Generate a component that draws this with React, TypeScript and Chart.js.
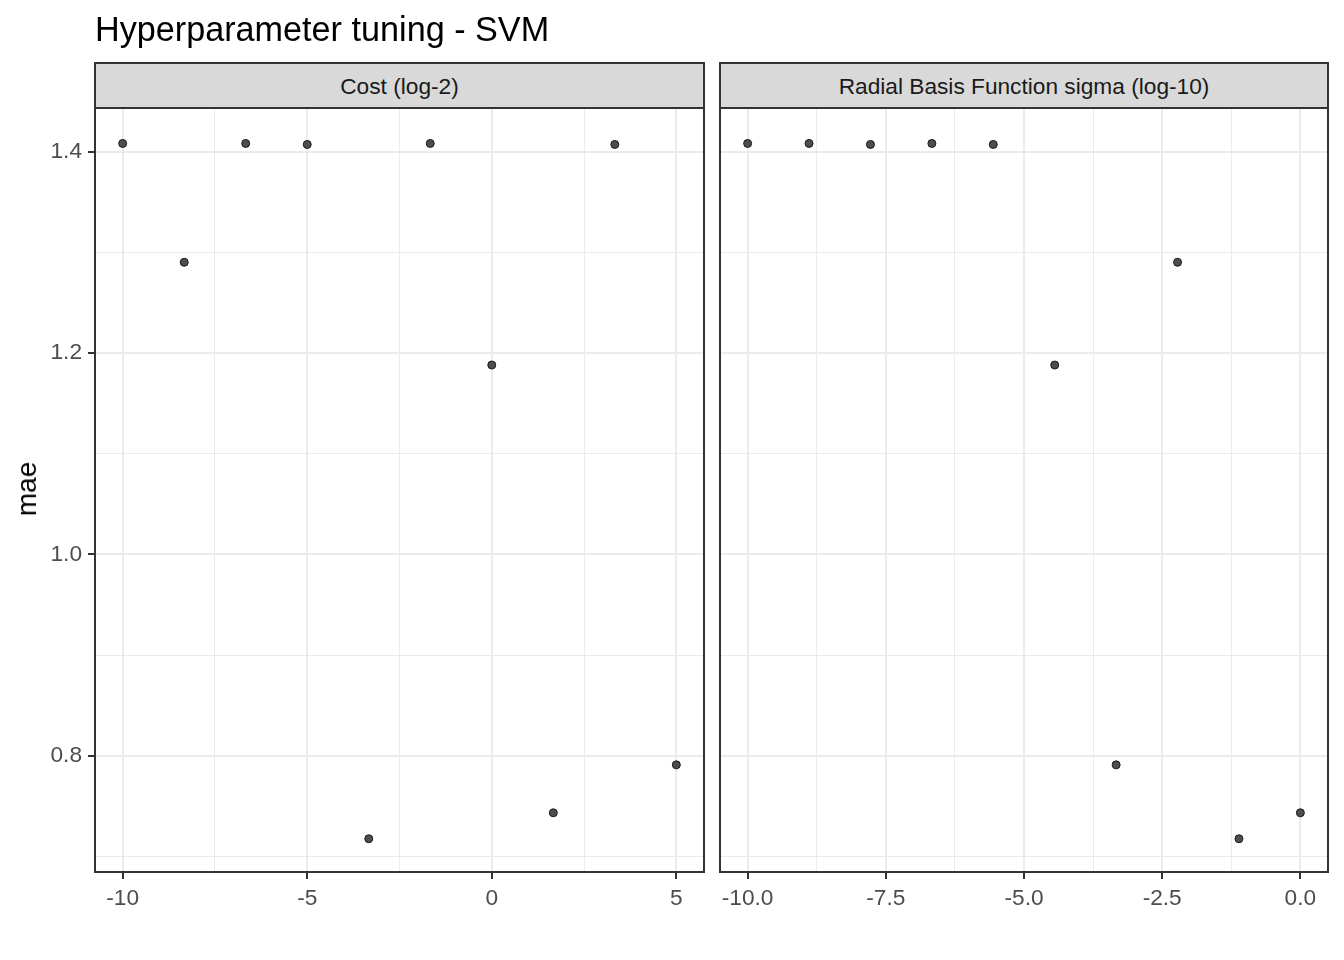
import React, { useEffect, useRef } from "react";
import { Chart, registerables } from "chart.js";

Chart.register(...registerables);

// ---- data ----
const costX = [-10, -8.333, -6.667, -5, -3.333, -1.667, 0, 1.667, 3.333, 5];
const costMae = [1.408, 1.29, 1.408, 1.407, 0.7176, 1.408, 1.188, 0.7434, 1.407, 0.791];

const sigmaX = [-10, -8.889, -7.778, -6.667, -5.556, -4.444, -3.333, -2.222, -1.111, 0];
const sigmaMae = [1.408, 1.408, 1.407, 1.408, 1.407, 1.188, 0.791, 1.29, 0.7176, 0.7434];

const costMajorTicks = [-10, -5, 0, 5];
const costMajorLabels = ["-10", "-5", "0", "5"];
const costMinorTicks = [-7.5, -2.5, 2.5];

const sigmaMajorTicks = [-10, -7.5, -5, -2.5, 0];
const sigmaMajorLabels = ["-10.0", "-7.5", "-5.0", "-2.5", "0.0"];
const sigmaMinorTicks = [-8.75, -6.25, -3.75, -1.25];

const yMajorTicks = [0.8, 1.0, 1.2, 1.4];
const yMajorLabels = ["0.8", "1.0", "1.2", "1.4"];
const yMinorTicks = [0.7, 0.9, 1.1, 1.3];

const titleText = "Hyperparameter tuning - SVM";
const stripCost = "Cost (log-2)";
const stripSigma = "Radial Basis Function sigma (log-10)";
const yTitle = "mae";

const FONT = "'Liberation Sans', Arial, Helvetica, sans-serif";
const TICK_SIZE = 22.7;

function near(a: number, b: number) {
  return Math.abs(a - b) < 1e-6;
}

const borderPlugin = {
  id: "panelBorder",
  afterDraw(chart: any) {
    const { ctx, chartArea } = chart;
    ctx.save();
    ctx.strokeStyle = "#333333";
    ctx.lineWidth = 2;
    ctx.strokeRect(chartArea.left, chartArea.top, chartArea.right - chartArea.left, chartArea.bottom - chartArea.top);
    ctx.restore();
  },
};

function makeAxis(
  min: number,
  max: number,
  major: number[],
  labels: string[],
  minor: number[],
  showLabels: boolean,
  fitSize: number,
  horizontal: boolean
) {
  const all = [...major, ...minor].sort((a, b) => a - b);
  const isMajor = (v: number) => major.some((m) => near(m, v));
  return {
    type: "linear",
    position: horizontal ? "bottom" : "left",
    min,
    max,
    afterBuildTicks: (s: any) => {
      s.ticks = all.map((v) => ({ value: v }));
    },
    afterFit: (s: any) => {
      if (horizontal) s.height = fitSize;
      else s.width = fitSize;
    },
    ticks: {
      display: showLabels,
      autoSkip: false,
      maxRotation: 0,
      minRotation: 0,
      padding: horizontal ? 6 : 6,
      color: "#4D4D4D",
      font: { family: FONT, size: TICK_SIZE },
      callback: (v: number) => {
        const i = major.findIndex((m) => near(m, v));
        return i >= 0 ? labels[i] : "";
      },
    },
    grid: {
      color: "#EBEBEB",
      lineWidth: (c: any) => (c.tick && isMajor(c.tick.value) ? 2 : 1),
      drawTicks: showLabels,
      tickLength: 7,
      tickWidth: 2,
      tickColor: (c: any) => (c.tick && isMajor(c.tick.value) ? "#333333" : "rgba(0,0,0,0)"),
    },
    border: { display: false },
  };
}

function Panel(props: {
  xs: number[];
  ys: number[];
  xMin: number;
  xMax: number;
  xMajor: number[];
  xLabels: string[];
  xMinor: number[];
  showY: boolean;
  width: number;
  padLeft: number;
  padRight: number;
  yWidth: number;
  left: number;
}) {
  const ref = useRef<HTMLCanvasElement | null>(null);
  useEffect(() => {
    if (!ref.current) return;
    const chart = new Chart(ref.current, {
      type: "scatter",
      data: {
        datasets: [
          {
            data: props.xs.map((x, i) => ({ x, y: props.ys[i] })),
            pointRadius: 4,
            pointHoverRadius: 4,
            pointBackgroundColor: "#4D4D4D",
            pointBorderColor: "#1A1A1A",
            pointBorderWidth: 1,
            showLine: false,
          },
        ],
      },
      options: {
        animation: false,
        responsive: false,
        events: [],
        layout: { padding: { top: 108, bottom: 40, left: props.padLeft, right: props.padRight } },
        plugins: { legend: { display: false }, tooltip: { enabled: false }, title: { display: false } },
        scales: {
          x: makeAxis(props.xMin, props.xMax, props.xMajor, props.xLabels, props.xMinor, true, 48, true) as any,
          y: makeAxis(0.6846, 1.4432, yMajorTicks, yMajorLabels, yMinorTicks, props.showY, props.yWidth, false) as any,
        },
      } as any,
      plugins: [borderPlugin],
    });
    return () => chart.destroy();
  }, []);
  return (
    <canvas
      ref={ref}
      width={props.width}
      height={960}
      style={{ position: "absolute", left: props.left, top: 0, width: props.width, height: 960 }}
    />
  );
}

const stripStyle: React.CSSProperties = {
  position: "absolute",
  top: 62,
  height: 47,
  boxSizing: "border-box",
  border: "2px solid #333333",
  background: "#D9D9D9",
  display: "flex",
  alignItems: "center",
  justifyContent: "center",
  fontFamily: FONT,
  fontSize: TICK_SIZE,
  lineHeight: 1,
  paddingTop: 2,
  color: "#1A1A1A",
  whiteSpace: "nowrap",
};

export default function App() {
  return (
    <div style={{ position: "absolute", left: 0, top: 0, width: 1344, height: 960, background: "#FFFFFF", overflow: "hidden" }}>
      <Panel
        xs={costX}
        ys={costMae}
        xMin={-10.75}
        xMax={5.75}
        xMajor={costMajorTicks}
        xLabels={costMajorLabels}
        xMinor={costMinorTicks}
        showY={true}
        width={712}
        padLeft={0}
        padRight={8}
        yWidth={95}
        left={0}
      />
      <Panel
        xs={sigmaX}
        ys={sigmaMae}
        xMin={-10.5}
        xMax={0.5}
        xMajor={sigmaMajorTicks}
        xLabels={sigmaMajorLabels}
        xMinor={sigmaMinorTicks}
        showY={false}
        width={632}
        padLeft={8}
        padRight={16}
        yWidth={0}
        left={712}
      />
      <div style={{ ...stripStyle, left: 94, width: 611 }}>{stripCost}</div>
      <div style={{ ...stripStyle, left: 719, width: 610 }}>{stripSigma}</div>
      <div
        style={{
          position: "absolute",
          left: 95,
          top: 12,
          fontFamily: FONT,
          fontSize: 34.2,
          lineHeight: "34px",
          color: "#000000",
          whiteSpace: "nowrap",
        }}
      >
        {titleText}
      </div>
      <div style={{ position: "absolute", left: 26.5, top: 489, width: 0, height: 0 }}>
        <div
          style={{
            position: "absolute",
            left: 0,
            top: 0,
            transform: "translate(-50%, -50%) rotate(-90deg)",
            fontFamily: FONT,
            fontSize: 28,
            lineHeight: "28px",
            color: "#000000",
            whiteSpace: "nowrap",
          }}
        >
          {yTitle}
        </div>
      </div>
    </div>
  );
}
